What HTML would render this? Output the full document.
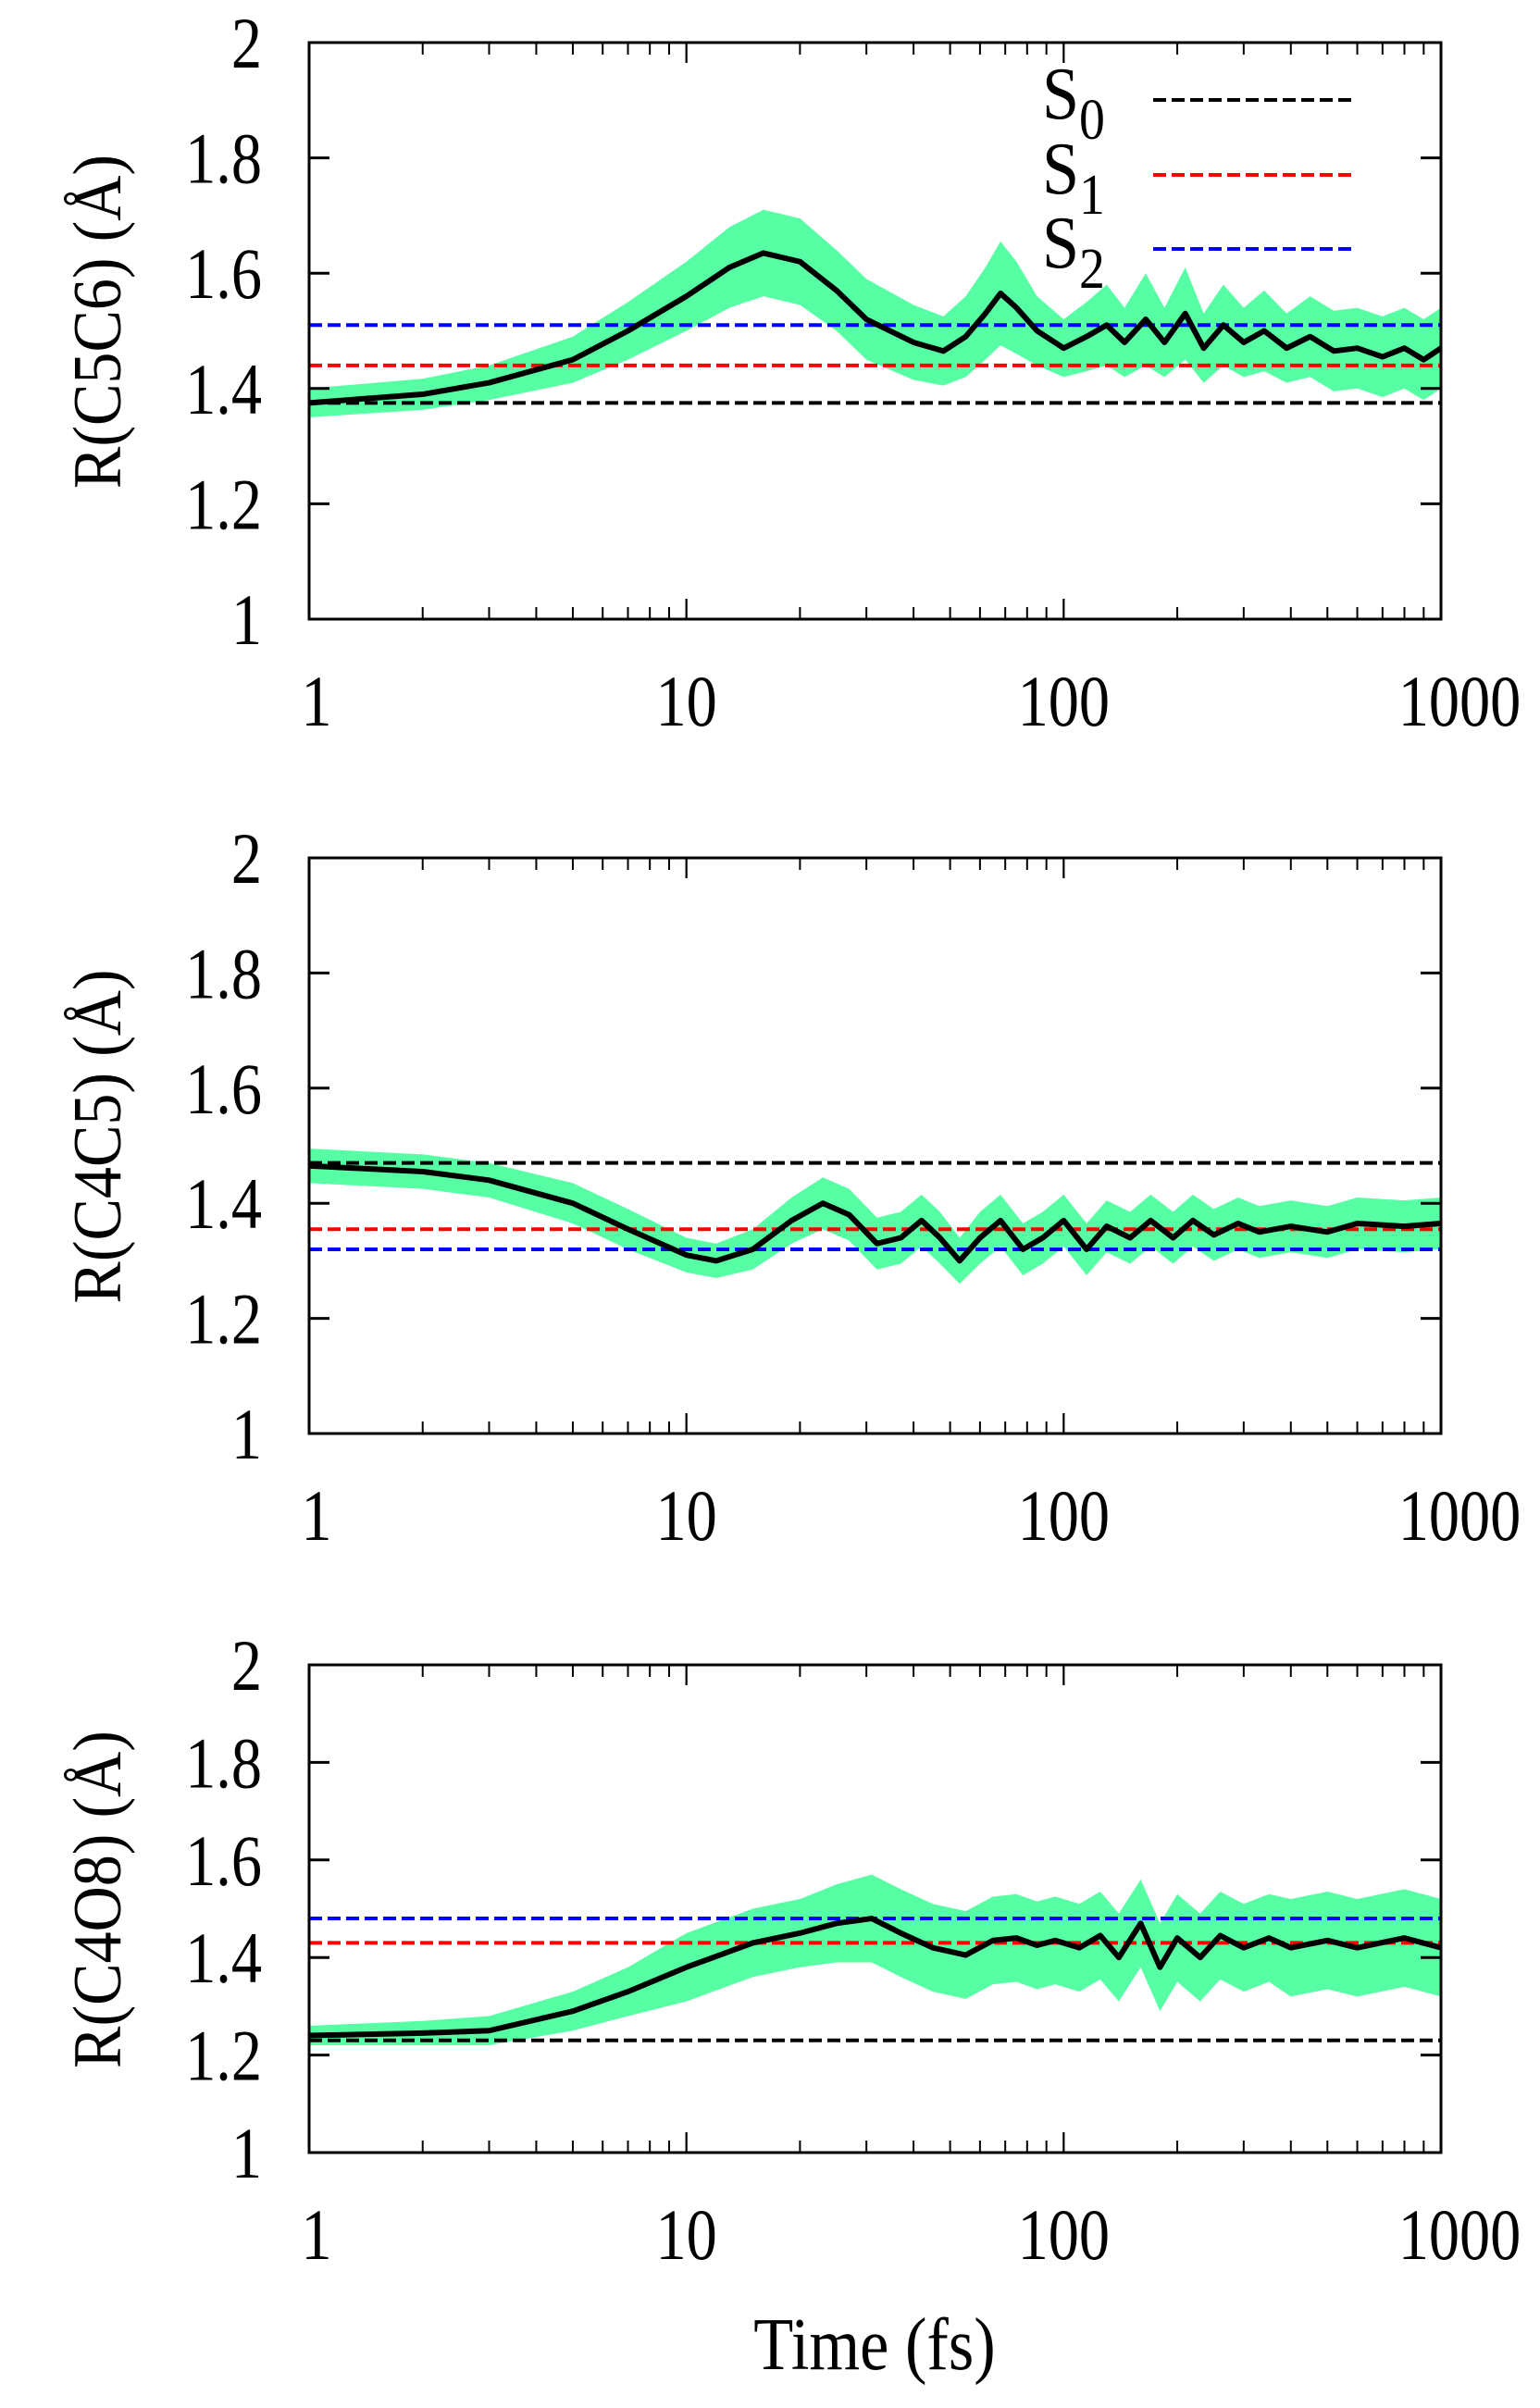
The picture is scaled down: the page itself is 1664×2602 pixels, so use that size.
<!DOCTYPE html>
<html><head><meta charset="utf-8"><style>
body{margin:0;background:#fff;}
svg text{font-family:"Liberation Serif",serif;fill:#000;}
</style></head><body>
<svg id="chart" width="1664" height="2597" xmlns="http://www.w3.org/2000/svg"></svg>
<script>
const xTicks=[1,10,100,1000];
const xTickLabels=["1","10","100","1000"];
const yTicks=[1,1.2,1.4,1.6,1.8,2];
const yTickLabels=["1","1.2","1.4","1.6","1.8","2"];
const titles=["R(C5C6) (Å)","R(C4C5) (Å)","R(C4O8) (Å)"];
const refS0=[1.375,1.47,1.23];
const refS1=[1.44,1.355,1.43];
const refS2=[1.51,1.32,1.48];
const t1=[1,2,3,5,7,10,13,16,20,25,30,40,48,55,62,68,75,85,100,115,130,145,165,185,210,235,265,300,340,390,450,520,600,700,800,900,1000];
const m1=[1.375,1.39,1.41,1.45,1.50,1.56,1.61,1.635,1.62,1.57,1.52,1.48,1.465,1.49,1.53,1.565,1.54,1.50,1.47,1.49,1.51,1.48,1.52,1.48,1.53,1.47,1.51,1.48,1.50,1.47,1.49,1.465,1.47,1.455,1.47,1.45,1.47];
const s1=[0.025,0.027,0.03,0.04,0.05,0.06,0.07,0.075,0.075,0.07,0.07,0.065,0.06,0.07,0.08,0.09,0.08,0.06,0.05,0.06,0.07,0.06,0.08,0.06,0.08,0.06,0.07,0.06,0.07,0.06,0.07,0.07,0.07,0.07,0.07,0.07,0.07];
const t2=[1,2,3,5,7,10,12,15,19,23,27,32,37,42,47,53,60,68,78,88,100,115,130,150,170,195,220,250,290,330,400,500,600,800,1000];
const m2=[1.465,1.455,1.44,1.40,1.355,1.31,1.30,1.32,1.37,1.40,1.38,1.33,1.34,1.37,1.34,1.30,1.34,1.37,1.32,1.34,1.37,1.32,1.36,1.34,1.37,1.34,1.37,1.345,1.365,1.35,1.36,1.35,1.365,1.36,1.365];
const s2=[0.03,0.03,0.03,0.035,0.035,0.03,0.03,0.035,0.04,0.045,0.045,0.045,0.045,0.045,0.045,0.04,0.045,0.045,0.045,0.045,0.045,0.045,0.045,0.045,0.045,0.045,0.045,0.045,0.045,0.045,0.045,0.045,0.045,0.045,0.045];
const t3=[1,2,3,5,7,10,15,20,25,31,37,45,55,65,75,85,95,110,125,140,160,180,200,230,260,300,350,400,500,600,800,1000];
const m3=[1.24,1.245,1.25,1.29,1.33,1.38,1.43,1.45,1.47,1.48,1.45,1.42,1.405,1.435,1.44,1.425,1.435,1.42,1.445,1.40,1.47,1.38,1.44,1.40,1.445,1.42,1.44,1.42,1.435,1.42,1.44,1.42];
const s3=[0.02,0.025,0.03,0.04,0.05,0.07,0.07,0.07,0.08,0.09,0.09,0.09,0.09,0.09,0.09,0.09,0.09,0.09,0.09,0.09,0.09,0.09,0.09,0.09,0.09,0.09,0.09,0.1,0.1,0.1,0.1,0.1];
const times=[t1,t2,t3], means=[m1,m2,m3], sds=[s1,s2,s3];
const panels=[{top:46,bot:669},{top:927,bot:1549},{top:1799,bot:2326}];
const L=334,R=1557;
const NS="http://www.w3.org/2000/svg";
const svg=document.getElementById('chart');
function mk(tag,attrs,parent){const e=document.createElementNS(NS,tag);for(const k in attrs)e.setAttribute(k,attrs[k]);(parent||svg).appendChild(e);return e;}
const xs=t=>L+(Math.log10(t))/3*(R-L);
panels.forEach((p,i)=>{
  const ys=v=>p.bot-(v-1)*(p.bot-p.top);
  const g=mk('g',{});
  
  
  const T=times[i],M=means[i],S=sds[i];
  let d='M'+T.map((t,j)=>xs(t)+','+ys(M[j]+S[j])).join(' L');
  for(let j=T.length-1;j>=0;j--)d+=' L'+xs(T[j])+','+ys(M[j]-S[j]);
  const band=mk('path',{d:d+'Z',fill:'#44ff99',opacity:'0.9'},g);
  
  
  [[refS0[i],'#000','s0-line'],[refS1[i],'#f00','s1-line'],[refS2[i],'#00f','s2-line']].forEach(r=>{
    const ln=mk('line',{x1:L,x2:R,y1:ys(r[0]),y2:ys(r[0]),stroke:r[1],'stroke-width':4,'stroke-dasharray':'14 6'},g);
    
    
  });
  const mean=mk('polyline',{points:T.map((t,j)=>xs(t)+','+ys(M[j])).join(' '),fill:'none',stroke:'#000','stroke-width':6,'stroke-linejoin':'round'},g);
  
  
  const box=mk('rect',{x:L,y:p.top,width:R-L,height:p.bot-p.top,fill:'none',stroke:'#000','stroke-width':3},g);
  
  
  for(let dec=0;dec<3;dec++)for(let k=1;k<=10;k++){
    const t=Math.pow(10,dec)*k,x=xs(t),len=(k===1||k===10)?22:13;
    mk('line',{x1:x,x2:x,y1:p.bot,y2:p.bot-len,stroke:'#000','stroke-width':2},g);
    mk('line',{x1:x,x2:x,y1:p.top,y2:p.top+len,stroke:'#000','stroke-width':2},g);
  }
  yTicks.forEach((v,j)=>{
    const y=ys(v);
    mk('line',{x1:L,x2:L+22,y1:y,y2:y,stroke:'#000','stroke-width':3},g);
    mk('line',{x1:R,x2:R-22,y1:y,y2:y,stroke:'#000','stroke-width':3},g);
    const tx=mk('text',{x:0,y:0,'font-size':78,'text-anchor':'end',transform:'translate(283,'+(y+27)+') scale(0.85,1)'},g);
    tx.textContent=yTickLabels[j];
    
    
  });
  xTicks.forEach((v,j)=>{
    const tx=mk('text',{x:0,y:0,'font-size':78,'text-anchor':'middle',transform:'translate('+(xs(v)+(j===0?8:j===3?20:0))+','+(p.bot+115)+') scale(0.85,1)'},g);
    tx.textContent=xTickLabels[j];
    
    
  });
  const cy=(p.top+p.bot)/2-10;
  const yt=mk('text',{x:0,y:0,'font-size':74,'text-anchor':'middle',transform:'translate(130,'+cy+') rotate(-90) scale(0.92,1)'},g);
  yt.textContent=titles[i];
  
  
});
const lg=mk('g',{});


[['0','#000',108],['1','#f00',189],['2','#00f',269]].forEach(e=>{
  const tx=mk('text',{x:0,y:0,'font-size':80,transform:'translate(1126,'+(e[2]+20)+') scale(0.9,1)'},lg);
  tx.innerHTML='S<tspan font-size="62" dy="22">'+e[0]+'</tspan>';
  
  
  const ln=mk('line',{x1:1246,x2:1461,y1:e[2],y2:e[2],stroke:e[1],'stroke-width':4,'stroke-dasharray':'14 6'},lg);
  
  
});
const xt=mk('text',{x:0,y:0,'font-size':80,'text-anchor':'middle',transform:'translate(945,2560) scale(0.88,1)'});
xt.textContent='Time (fs)';


</script>
</body></html>
